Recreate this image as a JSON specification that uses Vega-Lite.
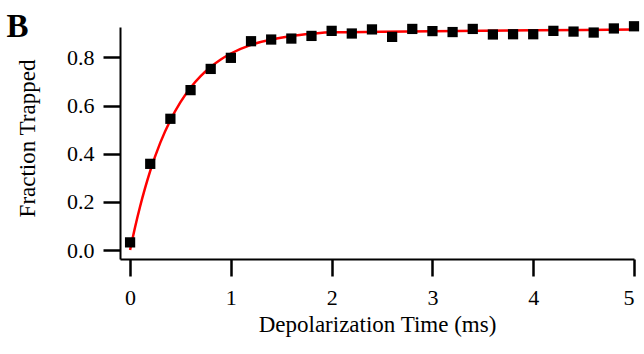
{
  "$schema": "https://vega.github.io/schema/vega-lite/v6.json",
  "width": 514,
  "height": 232,
  "autosize": {"type": "none"},
  "padding": {"left": 120, "top": 27, "right": 10, "bottom": 95},
  "background": "white",
  "config": {
    "view": {"stroke": null},
    "font": "Liberation Serif",
    "title": {"font": "Liberation Serif", "fontSize": 33, "fontWeight": "bold", "color": "black"}
  },
  "title": {"text": "B", "anchor": "start", "frame": "bounds", "dx": -10, "dy": 15, "offset": -8},
  "datasets": {
    "points": [
      {"t": 0.0, "f": 0.032}, {"t": 0.2, "f": 0.358}, {"t": 0.4, "f": 0.545}, {"t": 0.6, "f": 0.664},
      {"t": 0.8, "f": 0.752}, {"t": 1.0, "f": 0.798}, {"t": 1.2, "f": 0.867}, {"t": 1.4, "f": 0.874},
      {"t": 1.6, "f": 0.878}, {"t": 1.8, "f": 0.889}, {"t": 2.0, "f": 0.910}, {"t": 2.2, "f": 0.899},
      {"t": 2.4, "f": 0.916}, {"t": 2.6, "f": 0.885}, {"t": 2.8, "f": 0.918}, {"t": 3.0, "f": 0.909},
      {"t": 3.2, "f": 0.905}, {"t": 3.4, "f": 0.918}, {"t": 3.6, "f": 0.895}, {"t": 3.8, "f": 0.896},
      {"t": 4.0, "f": 0.896}, {"t": 4.2, "f": 0.910}, {"t": 4.4, "f": 0.907}, {"t": 4.6, "f": 0.903},
      {"t": 4.8, "f": 0.920}, {"t": 5.0, "f": 0.929}
    ],
    "fit": [
      {"t": 0.0, "f": 0.0}, {"t": 0.05, "f": 0.096}, {"t": 0.1, "f": 0.182}, {"t": 0.15, "f": 0.259},
      {"t": 0.2, "f": 0.329}, {"t": 0.3, "f": 0.446}, {"t": 0.4, "f": 0.539}, {"t": 0.5, "f": 0.614},
      {"t": 0.6, "f": 0.674}, {"t": 0.7, "f": 0.722}, {"t": 0.8, "f": 0.760}, {"t": 0.9, "f": 0.791},
      {"t": 1.0, "f": 0.816}, {"t": 1.2, "f": 0.852}, {"t": 1.4, "f": 0.874}, {"t": 1.6, "f": 0.889},
      {"t": 1.8, "f": 0.898}, {"t": 2.0, "f": 0.904}, {"t": 2.5, "f": 0.906}, {"t": 3.0, "f": 0.908},
      {"t": 3.5, "f": 0.910}, {"t": 4.0, "f": 0.912}, {"t": 4.5, "f": 0.914}, {"t": 5.0, "f": 0.916}
    ]
  },
  "encoding": {
    "x": {
      "field": "t", "type": "quantitative",
      "scale": {"domain": [-0.1, 5], "nice": false, "zero": false},
      "axis": {
        "values": [0, 1, 2, 3, 4, 5], "format": "d", "title": "Depolarization Time (ms)",
        "grid": false, "domainColor": "black", "domainWidth": 2, "tickColor": "black", "tickWidth": 2.5, "tickSize": 17,
        "labelFont": "Liberation Serif", "labelFontSize": 22, "labelColor": "black", "labelPadding": 11,
        "titleFont": "Liberation Serif", "titleFontSize": 23, "titleFontWeight": "normal", "titleColor": "black", "titlePadding": 5
      }
    },
    "y": {
      "field": "f", "type": "quantitative",
      "scale": {"domain": [-0.037, 0.926], "nice": false, "zero": false},
      "axis": {
        "values": [0, 0.2, 0.4, 0.6, 0.8], "format": ".1f", "title": "Fraction Trapped",
        "grid": false, "domainColor": "black", "domainWidth": 2, "tickColor": "black", "tickWidth": 2.5, "tickSize": 17,
        "labelFont": "Liberation Serif", "labelFontSize": 22, "labelColor": "black", "labelPadding": 9,
        "titleFont": "Liberation Serif", "titleFontSize": 23, "titleFontWeight": "normal", "titleColor": "black", "titlePadding": 27, "titleY": 111
      }
    }
  },
  "layer": [
    {
      "data": {"name": "fit"},
      "mark": {"type": "line", "color": "#ff0000", "strokeWidth": 2.5, "interpolate": "monotone", "clip": false}
    },
    {
      "data": {"name": "points"},
      "mark": {"type": "point", "shape": "square", "filled": true, "color": "black", "opacity": 1, "size": 105}
    }
  ]
}
